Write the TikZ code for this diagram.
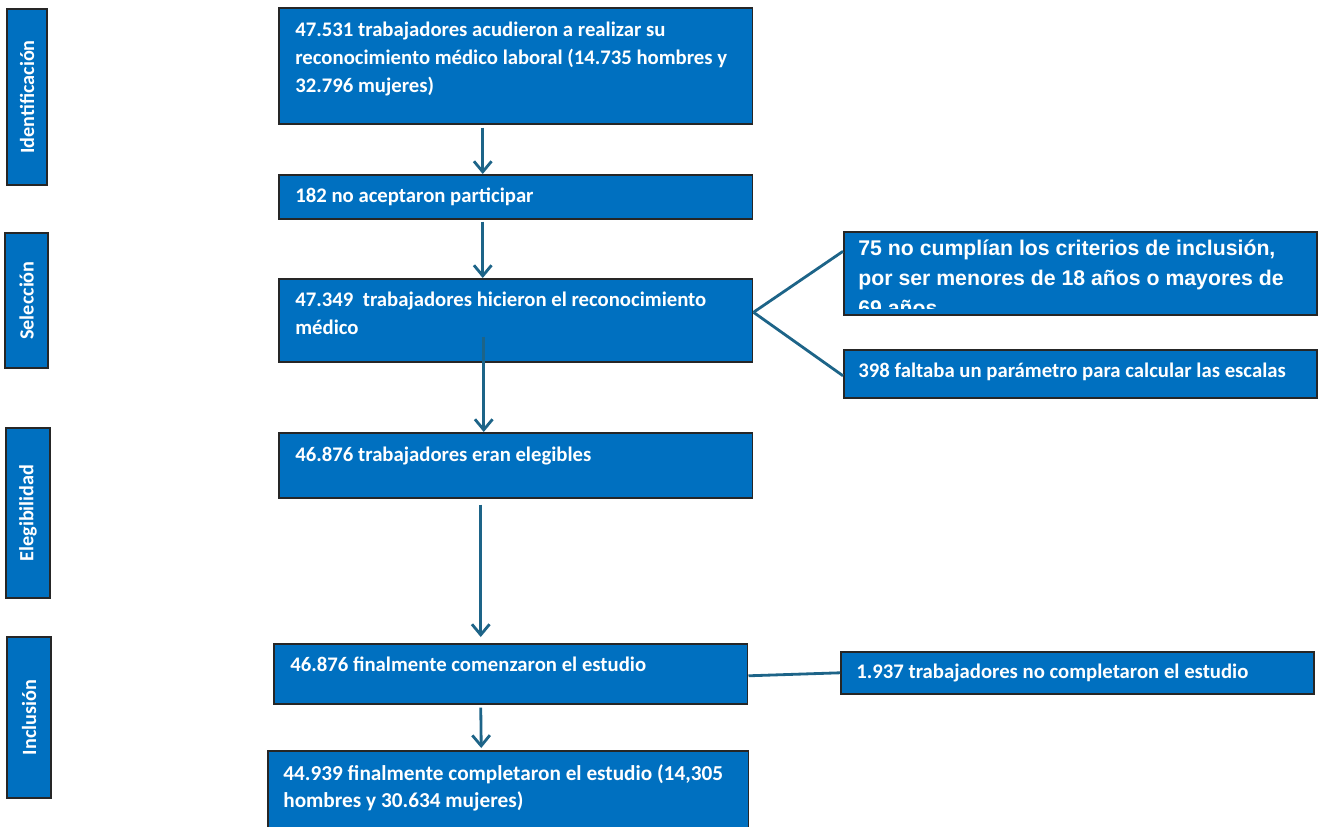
\documentclass[tikz,border=0pt]{standalone}
\usepackage{fontspec}
\setmainfont{Carlito}
\newfontfamily\arialfont{Liberation Sans}
\usetikzlibrary{positioning, arrows.meta, calc}

\definecolor{boxblue}{HTML}{0070C0}
\definecolor{linkblue}{HTML}{1D6488}

\begin{document}
\begin{tikzpicture}[
					x=0.02cm, y=-0.02cm,
					box/.style={draw=black!85, line width=0.9pt, fill=boxblue, anchor=north west, inner sep=0pt},
					txt/.style={anchor=north west, text=white, font=\bfseries\fontsize{11.8}{15.8}\selectfont, align=left, inner sep=0pt},
					stage/.style={draw=black!85, line width=0.9pt, fill=boxblue, text=white, rotate=90, font=\bfseries\fontsize{11.5}{14}\selectfont},
					flow/.style={draw=linkblue, line width=1.6pt, -{Straight Barb[length=6pt, width=10pt, line width=1.6pt]}},
					link/.style={draw=linkblue, line width=1.6pt}
					]
					\useasboundingbox (0,0) rectangle (1318,826);
					% stages on the left
					\node[stage, minimum width=3.52cm, minimum height=0.80cm] (ident) at (27,97) {Identificación};
					\node[stage, minimum width=2.70cm, minimum height=0.86cm] (selec) at (26.5,300.5) {Selección};
					\node[stage, minimum width=3.40cm, minimum height=0.88cm] (elig) at (28,513) {Elegibilidad};
					\node[stage, minimum width=3.22cm, minimum height=0.88cm] (incl) at (29,717.5) {Inclusión};
					% main column
					\node[box, minimum width=9.48cm, minimum height=2.32cm] (recon) at (278,7) {};
					\node[txt] (reconT) at ($(recon.north west)+(17,15)$) {47.531 trabajadores acudieron a realizar su\\ reconocimiento médico laboral (14.735 hombres y\\ 32.796 mujeres)};
					\node[box, minimum width=9.48cm, minimum height=0.88cm] (noacep) at (278,174) {};
					\node[txt] (noacepT) at ($(noacep.north west)+(17,14)$) {182 no aceptaron participar};
					\node[box, minimum width=9.48cm, minimum height=1.66cm] (hicieron) at (278,278) {};
					\node[txt] (hicieronT) at ($(hicieron.north west)+(17,14)$) {47.349 \ trabajadores hicieron el reconocimiento\\ médico};
					\node[box, minimum width=9.48cm, minimum height=1.30cm] (elegib) at (278,432) {};
					\node[txt] (elegibT) at ($(elegib.north west)+(17,15)$) {46.876 trabajadores eran elegibles};
					\node[box, minimum width=9.48cm, minimum height=1.20cm] (comienz) at (273,643) {};
					\node[txt] (comienzT) at ($(comienz.north west)+(17,14)$) {46.876 finalmente comenzaron el estudio};
					\node[box, minimum width=9.62cm, minimum height=1.60cm] (complet) at (267,750) {};
					\node[txt, font=\bfseries\fontsize{12.1}{15.8}\selectfont] (completT) at ($(complet.north west)+(16,14)$) {44.939 finalmente completaron el estudio (14,305\\ hombres y 30.634 mujeres)};
					% exclusions on the right
					\node[box, minimum width=9.46cm, minimum height=1.66cm] (crit) at (843,231) {};
					\begin{scope}
						\clip (crit.north west) rectangle ($(crit.south east)+(0,-7)$);
						\node[txt, font=\arialfont\bfseries\fontsize{12.1}{17}\selectfont] (critT) at ($(crit.north west)+(15,9)$) {75 no cumplían los criterios de inclusión,\\ por ser menores de 18 años o mayores de\\ 69 años};
					\end{scope}
					\node[box, minimum width=9.46cm, minimum height=0.96cm] (param) at (843,349) {};
					\node[txt] (paramT) at ($(param.north west)+(15,14)$) {398 faltaba un parámetro para calcular las escalas};
					\node[box, minimum width=9.46cm, minimum height=0.84cm] (nocompl) at (840,651) {};
					\node[txt] (nocomplT) at ($(nocompl.north west)+(16,13)$) {1.937 trabajadores no completaron el estudio};
					% arrows
					\draw[flow] ($(recon.south)+(-33,3)$) -- ($(noacep.north)+(-33,0)$);
					\draw[flow] ($(noacep.south)+(-33,2)$) -- ($(hicieron.north)+(-33,0)$);
					\draw[flow] ($(hicieron.south)+(-32,-26)$) -- ($(elegib.north)+(-32,0)$);
					\draw[flow] ($(elegib.south)+(-35,6)$) -- ($(comienz.north)+(-30,-6)$);
					\draw[flow] ($(comienz.south)+(-30,3)$) -- ($(complet.north)+(-27,-2)$);
					\draw[link] ($(hicieron.east)+(0,-8)$) -- ($(crit.west)+(0,-22)$);
					\draw[link] ($(hicieron.east)+(0,-8)$) -- ($(param.west)+(0,2)$);
					\draw[link] ($(comienz.east)+(0,2)$) -- ($(nocompl.west)+(0,0)$);
				\end{tikzpicture}
\end{document}
